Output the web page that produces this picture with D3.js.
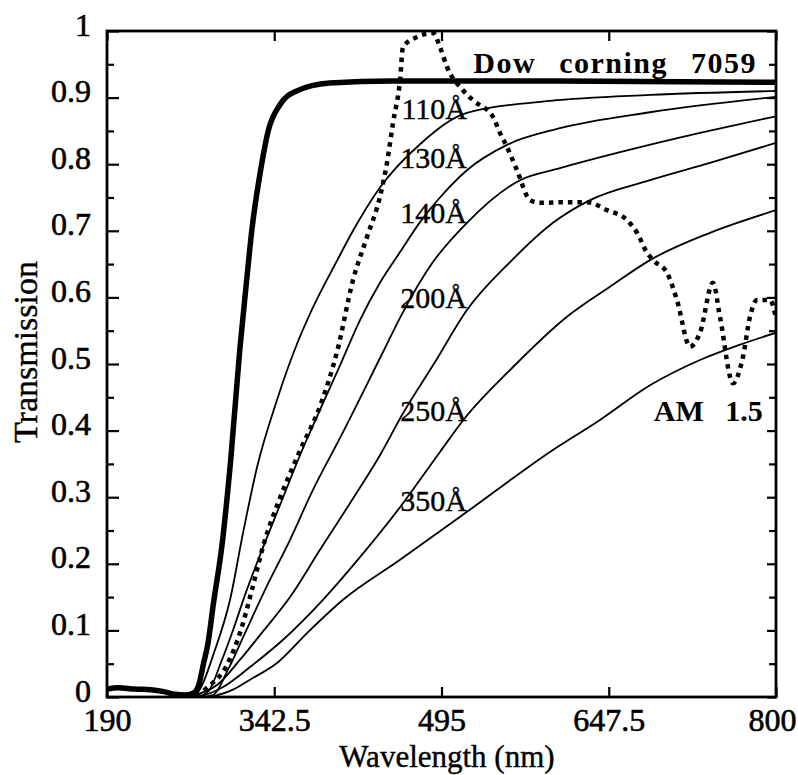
<!DOCTYPE html>
<html>
<head>
<meta charset="utf-8">
<script src="https://cdn.jsdelivr.net/npm/d3@7"></script>
<style>
  body { margin: 0; background: #fff; }
  svg { display: block; }
  text { font-family: 'Liberation Serif', 'Times New Roman', serif; fill: #000; }
</style>
</head>
<body>
<script>
'use strict';

const WIDTH = 798;
const HEIGHT = 775;

const PLOT_LEFT = 107;
const PLOT_RIGHT = 776;
const PLOT_TOP = 31;
const PLOT_BOTTOM = 697;

const FONT = "'Liberation Serif', 'Times New Roman', serif";

const X_TICKS = [190, 342.5, 495, 647.5, 800];
const Y_TICKS = [0, 0.1, 0.2, 0.3, 0.4, 0.5, 0.6, 0.7, 0.8, 0.9, 1];
const Y_TICK_LABELS = ['0', '0.1', '0.2', '0.3', '0.4', '0.5', '0.6', '0.7', '0.8', '0.9', '1'];

// [wavelength nm, transmission]
const DOW_CORNING = [
    [190, 0.012], [200, 0.014], [215, 0.012], [230, 0.011], [242, 0.008], [252, 0.004],
    [262, 0.003], [269, 0.006], [274, 0.02], [278, 0.05], [282, 0.08], [287, 0.14],
    [295, 0.23], [303, 0.36], [311, 0.52], [317, 0.62], [322, 0.70], [331, 0.80],
    [337, 0.85], [348, 0.89], [363, 0.91], [393, 0.922], [450, 0.925], [600, 0.925], [800, 0.923]
];
const FILM_110 = [
    [262, 0], [270.2, 0.003], [288.5, 0.071], [302.2, 0.146], [314.0, 0.246], [326.8, 0.345],
    [345.0, 0.446], [363.2, 0.530], [377.8, 0.585], [399.7, 0.655], [414.3, 0.700],
    [438.9, 0.765], [475.4, 0.830], [518.2, 0.877], [593.9, 0.895], [685.1, 0.904], [800, 0.910]
];
const FILM_130 = [
    [272, 0], [282.1, 0.008], [294.9, 0.056], [304.0, 0.096], [315.8, 0.153], [329.5, 0.213],
    [347.7, 0.288], [366.0, 0.363], [384.2, 0.431], [402.5, 0.498], [420.7, 0.566],
    [438.9, 0.622], [457.2, 0.668], [475.4, 0.713], [493.6, 0.750], [518.2, 0.791],
    [554.7, 0.829], [603.0, 0.854], [685.1, 0.878], [800, 0.901]
];
const FILM_140 = [
    [276, 0], [286.7, 0.003], [300.3, 0.041], [315.8, 0.096], [334.1, 0.161], [356.9, 0.236],
    [377.8, 0.311], [402.5, 0.389], [441.7, 0.518], [459.9, 0.578], [487.2, 0.653],
    [518.2, 0.712], [566.6, 0.776], [603.0, 0.794], [657.8, 0.818], [730.7, 0.847], [800, 0.872]
];
const FILM_200 = [
    [262, 0], [270.2, 0.003], [290.3, 0.018], [311.3, 0.056], [329.5, 0.093], [356.9, 0.150],
    [384.2, 0.221], [411.6, 0.291], [438.9, 0.363], [459.9, 0.426], [489.1, 0.503],
    [518.2, 0.581], [557.5, 0.653], [596.7, 0.712], [630.4, 0.746], [685.1, 0.776],
    [739.8, 0.802], [800, 0.832]
];
const FILM_250 = [
    [270, 0], [279.4, 0.003], [295.8, 0.015], [320.4, 0.045], [350.5, 0.086], [386.9, 0.146],
    [420.7, 0.210], [457.2, 0.285], [493.6, 0.368], [516.4, 0.419], [557.5, 0.491],
    [609.4, 0.571], [648.6, 0.616], [685.1, 0.656], [739.8, 0.697], [800, 0.731]
];
const FILM_350 = [
    [285, 0], [304.9, 0.011], [320.4, 0.026], [345.0, 0.051], [372.4, 0.096], [405.2, 0.146],
    [457.2, 0.206], [518.2, 0.278], [593.9, 0.368], [639.5, 0.416], [685.1, 0.468],
    [730.7, 0.506], [767.2, 0.529], [800, 0.547]
];
const AM_15 = [
    [272, 0], [279.4, 0.011], [300, 0.05], [312, 0.10], [322, 0.16], [333, 0.23],
    [348, 0.30], [366, 0.37], [385, 0.44], [400, 0.52], [414.3, 0.626],
    [427.1, 0.691], [438.9, 0.751], [445.3, 0.802], [450.8, 0.862], [457.2, 0.926],
    [459.9, 0.976], [472.7, 0.991], [487.3, 0.997], [493.6, 0.976], [500.0, 0.946],
    [514.6, 0.911], [523.7, 0.896], [542.0, 0.871], [548.3, 0.847], [554.7, 0.826],
    [563.8, 0.791], [575.7, 0.746], [584.8, 0.742], [609.4, 0.743], [627.7, 0.743],
    [645.9, 0.731], [664.1, 0.716], [673.3, 0.697], [682.4, 0.667], [687.9, 0.656],
    [700.6, 0.637], [709.7, 0.596], [721.6, 0.526], [730.7, 0.547], [742.5, 0.622],
    [748.9, 0.571], [760.8, 0.471], [769.9, 0.511], [776.3, 0.571], [782.7, 0.596],
    [794.5, 0.596], [800, 0.569]
];

const THIN_SERIES = [FILM_110, FILM_130, FILM_140, FILM_200, FILM_250, FILM_350];

const FILM_LABELS = ['110Å', '130Å', '140Å', '200Å', '250Å', '350Å'];
// label anchor (right end, baseline) in data units
const FILM_LABEL_ANCHORS = [[518.2, 0.868], [518.2, 0.794], [518.2, 0.712], [518.2, 0.584], [518.2, 0.414], [518.2, 0.279]];

const DOW_LABEL = 'Dow corning 7059';
const DOW_LABEL_ANCHOR = [524, 0.937];
const AM_LABEL = 'AM 1.5';
const AM_LABEL_ANCHOR = [788, 0.414];

const X_TITLE = 'Wavelength (nm)';
const Y_TITLE = 'Transmission';

function main() {
    const x = d3.scaleLinear().domain([190, 800]).range([PLOT_LEFT, PLOT_RIGHT]);
    const y = d3.scaleLinear().domain([0, 1]).range([PLOT_BOTTOM, PLOT_TOP]);

    const svg = d3.select('body')
            .append('svg')
            .attr('width', WIDTH)
            .attr('height', HEIGHT);

    svg.append('defs').append('clipPath')
            .attr('id', 'plot-clip')
            .append('rect')
            .attr('x', PLOT_LEFT)
            .attr('y', PLOT_TOP - 2)
            .attr('width', PLOT_RIGHT - PLOT_LEFT)
            .attr('height', PLOT_BOTTOM - PLOT_TOP + 2);

    const line = d3.line()
            .x(d => x(d[0]))
            .y(d => y(d[1]))
            .curve(d3.curveMonotoneX);

    const curves = svg.append('g').attr('clip-path', 'url(#plot-clip)');

    curves.selectAll('path.film')
            .data(THIN_SERIES)
            .enter()
            .append('path')
            .attr('class', 'film')
            .attr('d', line)
            .attr('fill', 'none')
            .attr('stroke', '#000')
            .attr('stroke-width', 1.8);

    curves.append('path')
            .attr('d', line(DOW_CORNING))
            .attr('fill', 'none')
            .attr('stroke', '#000')
            .attr('stroke-width', 5.5);

    curves.append('path')
            .attr('d', line(AM_15))
            .attr('fill', 'none')
            .attr('stroke', '#000')
            .attr('stroke-width', 4.5)
            .attr('stroke-dasharray', '4.5,5');

    // Axes: ticks pointing inward on all four sides.
    const yMinor = d3.range(0.05, 1, 0.1);
    const axisBottom = d3.axisBottom(x).tickValues(X_TICKS).tickSize(-10).tickFormat(d3.format('~g'));
    const axisTop = d3.axisTop(x).tickValues(X_TICKS).tickSize(-10).tickFormat('');
    const axisLeft = d3.axisLeft(y).tickValues(Y_TICKS).tickSize(-12).tickFormat((d, i) => Y_TICK_LABELS[i]);
    const axisLeftMinor = d3.axisLeft(y).tickValues(yMinor).tickSize(-7).tickFormat('');
    const axisRight = d3.axisRight(y).tickValues(Y_TICKS).tickSize(-9).tickFormat('');
    const axisRightMinor = d3.axisRight(y).tickValues(yMinor).tickSize(-7).tickFormat('');

    function styleAxis(g) {
        g.attr('font-family', null).attr('font-size', null);
        g.select('.domain').remove();
        g.selectAll('.tick line').attr('stroke', '#000').attr('stroke-width', 2.2);
        g.selectAll('.tick text')
                .style('font-family', FONT)
                .style('font-size', '32px')
                .attr('fill', '#000')
                .attr('stroke', '#000')
                .attr('stroke-width', 0.6);
    }

    svg.append('g').attr('transform', `translate(0,${PLOT_BOTTOM})`).call(axisBottom).call(styleAxis)
            .selectAll('.tick text')
            .attr('y', 34)
            .attr('dy', 0)
            .attr('x', d => (d === 800 ? -4 : 0));
    svg.append('g').attr('transform', `translate(0,${PLOT_TOP})`).call(axisTop).call(styleAxis);
    svg.append('g').attr('transform', `translate(${PLOT_LEFT},0)`).call(axisLeft).call(styleAxis)
            .selectAll('.tick text').attr('x', -16).attr('dy', 4);
    svg.append('g').attr('transform', `translate(${PLOT_LEFT},0)`).call(axisLeftMinor).call(styleAxis);
    svg.append('g').attr('transform', `translate(${PLOT_RIGHT},0)`).call(axisRight).call(styleAxis);
    svg.append('g').attr('transform', `translate(${PLOT_RIGHT},0)`).call(axisRightMinor).call(styleAxis);

    // Frame.
    svg.append('rect')
            .attr('x', PLOT_LEFT)
            .attr('y', PLOT_TOP)
            .attr('width', PLOT_RIGHT - PLOT_LEFT)
            .attr('height', PLOT_BOTTOM - PLOT_TOP)
            .attr('fill', 'none')
            .attr('stroke', '#000')
            .attr('stroke-width', 2.8);

    // Curve labels.
    svg.selectAll('text.film-label')
            .data(FILM_LABELS)
            .enter()
            .append('text')
            .attr('class', 'film-label')
            .attr('x', (d, i) => x(FILM_LABEL_ANCHORS[i][0]))
            .attr('y', (d, i) => y(FILM_LABEL_ANCHORS[i][1]))
            .attr('text-anchor', 'end')
            .attr('stroke', '#000')
            .attr('stroke-width', 0.4)
            .style('font-size', '30px')
            .text(d => d);

    svg.append('text')
            .attr('x', x(DOW_LABEL_ANCHOR[0]))
            .attr('y', y(DOW_LABEL_ANCHOR[1]))
            .style('font-size', '30px')
            .style('font-weight', 'bold')
            .style('letter-spacing', '1.5px')
            .style('word-spacing', '14px')
            .text(DOW_LABEL);

    svg.append('text')
            .attr('x', x(AM_LABEL_ANCHOR[0]))
            .attr('y', y(AM_LABEL_ANCHOR[1]))
            .attr('text-anchor', 'end')
            .style('font-size', '30px')
            .style('font-weight', 'bold')
            .style('word-spacing', '14px')
            .text(AM_LABEL);

    // Axis titles.
    svg.append('text')
            .attr('x', 447)
            .attr('y', 767)
            .attr('text-anchor', 'middle')
            .attr('stroke', '#000')
            .attr('stroke-width', 0.4)
            .style('font-size', '31px')
            .text(X_TITLE);

    svg.append('text')
            .attr('transform', 'translate(37,352) rotate(-90)')
            .attr('text-anchor', 'middle')
            .attr('stroke', '#000')
            .attr('stroke-width', 0.4)
            .style('font-size', '34px')
            .text(Y_TITLE);
}

document.addEventListener('DOMContentLoaded', function(event) {
    main();
});
</script>
</body>
</html>
